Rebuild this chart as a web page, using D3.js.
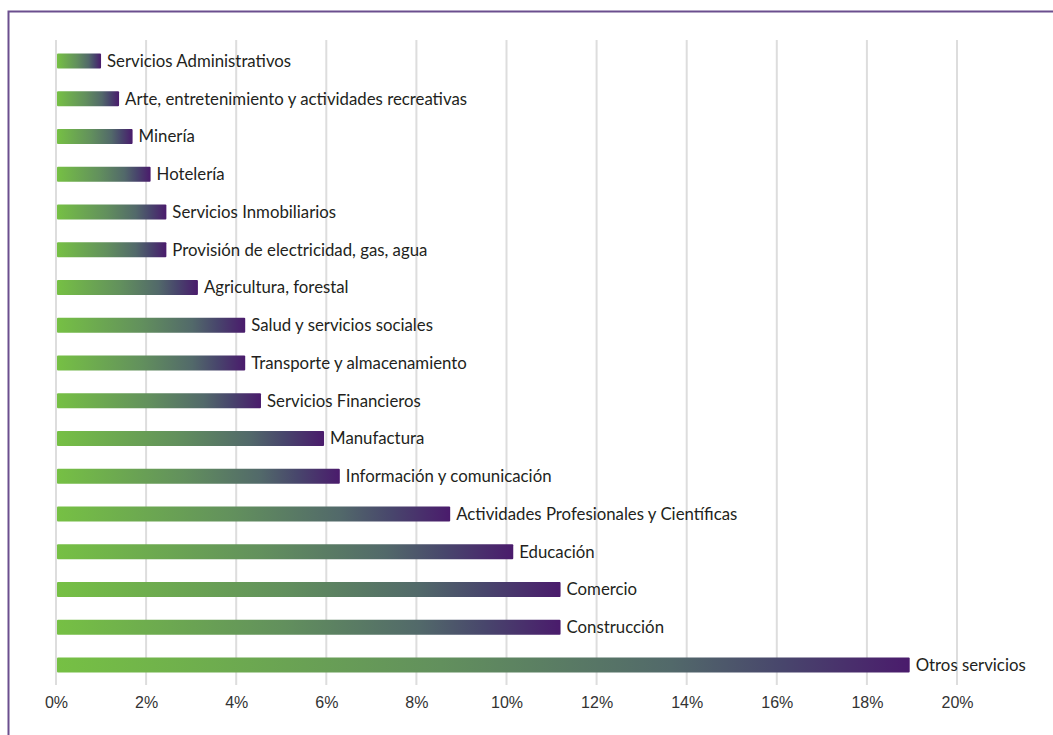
<!DOCTYPE html>
<html>
<head>
<meta charset="utf-8">
<script src="https://cdn.jsdelivr.net/npm/d3@7"></script>
<style>
  body { margin: 0; background: #fff; }
  svg { display: block; font-family: Lato, "Open Sans", sans-serif; }
</style>
</head>
<body>
<svg id="chart"></svg>
<script>
// sectors, top to bottom
var sectors = [
  "Servicios Administrativos",
  "Arte, entretenimiento y actividades recreativas",
  "Minería",
  "Hotelería",
  "Servicios Inmobiliarios",
  "Provisión de electricidad, gas, agua",
  "Agricultura, forestal",
  "Salud y servicios sociales",
  "Transporte y almacenamiento",
  "Servicios Financieros",
  "Manufactura",
  "Información y comunicación",
  "Actividades Profesionales y Científicas",
  "Educación",
  "Comercio",
  "Construcción",
  "Otros servicios"
];
// share of total
var shares = [1.0, 1.4, 1.7, 2.1, 2.45, 2.45, 3.15, 4.2, 4.2, 4.55, 5.95, 6.3, 8.75, 10.15, 11.2, 11.2, 18.95];
var ticks = [0, 2, 4, 6, 8, 10, 12, 14, 16, 18, 20];

var svgWidth = 1053, svgHeight = 735;

var svg = d3.select("#chart")
  .attr("width", svgWidth)
  .attr("height", svgHeight);

var data = sectors.map((s, i) => ({ name: s, value: shares[i] }));

var x = d3.scaleLinear().domain([0, 20]).range([56, 957]);
var y = d3.scalePoint().domain(sectors).range([61, 665]);
var barH = 15;

// frame
svg.append("path")
  .attr("d", `M8.5,${svgHeight} V11.5 H${svgWidth}`)
  .attr("fill", "none")
  .attr("stroke", "#6b4e8e")
  .attr("stroke-width", 2);

// gradient, applied per bar
var grad = svg.append("defs").append("linearGradient")
  .attr("id", "barGrad")
  .attr("x1", "0").attr("x2", "1").attr("y1", "0").attr("y2", "0");
[[0, "#76c044"], [0.45, "#62905d"], [0.72, "#52696a"], [0.85, "#48466c"], [1, "#4a1b6c"]]
  .forEach(s => grad.append("stop").attr("offset", s[0]).attr("stop-color", s[1]));

// gridlines
svg.append("g").selectAll("line")
  .data(ticks)
  .enter().append("line")
  .attr("x1", d => x(d)).attr("x2", d => x(d))
  .attr("y1", 40).attr("y2", 685)
  .attr("stroke", "#dddddd")
  .attr("stroke-width", 2);

// x axis labels
var xAxis = svg.append("g")
  .attr("transform", "translate(0,690)")
  .call(d3.axisBottom(x).tickValues(ticks).tickSize(0).tickPadding(0).tickFormat(d => d + "%"));
xAxis.select(".domain").remove();
xAxis.selectAll("text")
  .attr("dy", "18")
  .style("font-size", "16px")
  .style("fill", "#333");

// bars
svg.append("g").selectAll("rect")
  .data(data)
  .enter().append("rect")
  .attr("x", x(0) + 1)
  .attr("y", d => y(d.name) - barH / 2)
  .attr("width", d => x(d.value) - x(0) - 1)
  .attr("height", barH)
  .attr("rx", 1)
  .attr("fill", "url(#barGrad)");

// labels
svg.append("g").selectAll("text")
  .data(data)
  .enter().append("text")
  .attr("x", d => x(d.value) + 6)
  .attr("y", d => y(d.name))
  .attr("dy", "0.35em")
  .style("font-size", "16.8px")
  .style("fill", "#231f20")
  .text(d => d.name);
</script>
</body>
</html>
